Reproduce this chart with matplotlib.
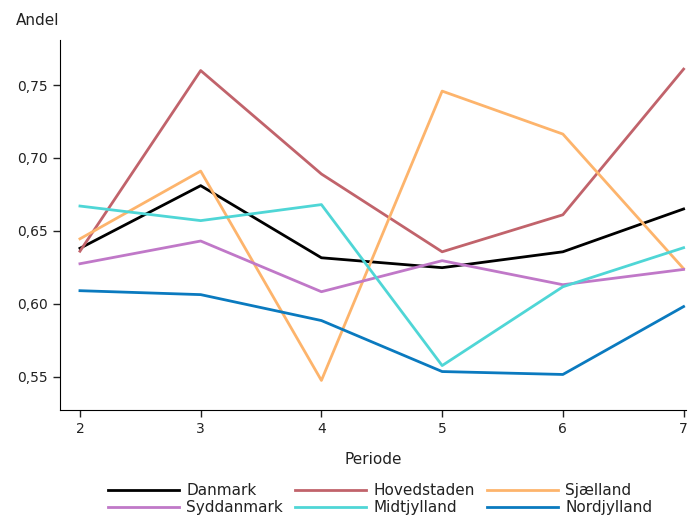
import matplotlib
matplotlib.use("Agg")
from matplotlib import pyplot as plt
from matplotlib.ticker import FuncFormatter

periods = [2, 3, 4, 5, 6, 7]

danmark = [0.638, 0.681, 0.6315, 0.6247, 0.6356, 0.665]
hovedstaden = [0.636, 0.760, 0.689, 0.6356, 0.661, 0.761]
sjaelland = [0.6445, 0.691, 0.5473, 0.7459, 0.7164, 0.624]
syddanmark = [0.6274, 0.643, 0.6082, 0.6295, 0.613, 0.6235]
midtjylland = [0.667, 0.657, 0.668, 0.5575, 0.6116, 0.6384]
nordjylland = [0.6089, 0.6062, 0.5884, 0.5534, 0.5514, 0.598]

series = [
    ("Danmark", danmark, "#000000"),
    ("Hovedstaden", hovedstaden, "#c1636b"),
    ("Sjælland", sjaelland, "#fdb46c"),
    ("Syddanmark", syddanmark, "#c078c8"),
    ("Midtjylland", midtjylland, "#4fd6d6"),
    ("Nordjylland", nordjylland, "#0a7abf"),
]


def main():
    fig = plt.figure(figsize=(6.94, 5.19), dpi=100)
    ax = fig.add_axes([0.0865, 0.210, 0.902, 0.713])

    lines = []
    for name, values, color in series:
        line, = ax.plot(periods, values, color=color, linewidth=2, label=name)
        lines.append(line)

    ax.set_xlim(1.835, 7.02)
    ax.set_ylim(0.527, 0.781)
    ax.set_xticks(periods)
    ax.set_yticks([0.55, 0.60, 0.65, 0.70, 0.75])
    ax.yaxis.set_major_formatter(FuncFormatter(lambda v, _: f"{v:.2f}".replace(".", ",")))
    ax.tick_params(labelsize=10, length=5, width=1, colors="#222222")

    for side in ("top", "right"):
        ax.spines[side].set_visible(False)

    ax.set_xlabel("Periode", fontsize=11, labelpad=12, color="#222222")
    fig.text(0.023, 0.96, "Andel", fontsize=11, va="center", color="#222222")

    # legend fills row by row: reorder for matplotlib's column-wise layout
    order = [0, 3, 1, 4, 2, 5]
    fig.legend([lines[i] for i in order], [lines[i].get_label() for i in order],
               loc="center", bbox_to_anchor=(0.548, 0.0385), ncol=3,
               frameon=False, fontsize=11, handlelength=4.65,
               columnspacing=0.8, labelspacing=0.15, handletextpad=0.46,
               labelcolor="#222222")

    fig.savefig("out.png", dpi=100)


if __name__ == "__main__":
    main()
